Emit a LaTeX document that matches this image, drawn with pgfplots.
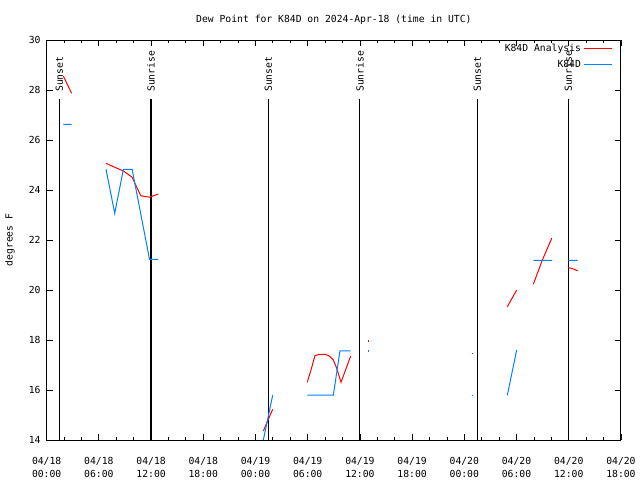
\documentclass[border=0pt]{standalone}
\usepackage{fontspec}
\setmainfont{DejaVu Sans Mono}
\usepackage{pgfplots}
\pgfplotsset{compat=1.18}
\definecolor{anared}{RGB}{255,0,0}
\definecolor{obsblue}{RGB}{0,128,255}

\begin{document}
\fontsize{7.3pt}{10pt}\selectfont
\begin{tikzpicture}
\path[use as bounding box] (0,0) rectangle (480pt,360pt);
\begin{axis}[
    at={(35pt,30pt)}, anchor=south west,
    scale only axis, width=430.7pt, height=300pt,
    xmin=0, xmax=66, ymin=14, ymax=30,
    xtick={0,6,...,66},
    xticklabels={{04/18\\00:00},{04/18\\06:00},{04/18\\12:00},{04/18\\18:00},
                 {04/19\\00:00},{04/19\\06:00},{04/19\\12:00},{04/19\\18:00},
                 {04/20\\00:00},{04/20\\06:00},{04/20\\12:00},{04/20\\18:00}},
    xticklabel style={align=center, yshift=-10pt},
    minor x tick num=2,
    ytick={14,16,...,30},
    yticklabel style={xshift=-2pt},
    /pgf/number format/assume math mode=true,
    tick align=inside,
    major tick length=4.5pt, minor tick length=2.25pt,
    tick style={black, line width=0.6pt},
    axis line style={line width=0.75pt},
    unbounded coords=jump,
    legend style={draw=none, fill=none, at={(0.986,0.998)}, anchor=north east,
                  row sep=1.5pt, inner sep=0pt},
    legend cell align=right,
    legend plot pos=right,
    legend image code/.code={\draw[#1] (0pt,0pt) -- (21pt,0pt);},
]
\addlegendimage{anared, line width=0.75pt}
\addlegendentry{K84D Analysis}
\addlegendimage{obsblue, line width=0.75pt}
\addlegendentry{K84D}

% sunrise / sunset markers
\addplot[black, line width=0.8pt, forget plot] coordinates {
  (1.45,14) (1.45,27.63) (2,nan)
  (11.99,14) (11.99,27.63) (13,nan)
  (25.47,14) (25.47,27.63) (26,nan)
  (36.0,14) (36.0,27.63) (37,nan)
  (49.49,14) (49.49,27.63) (50,nan)
  (59.95,14) (59.95,27.63)
};

% K84D Analysis
\addplot[anared, line width=0.75pt, forget plot] coordinates {
  (1.91,28.56) (2.87,27.87) (4,nan)
  (6.82,25.07) (7.82,24.91) (8.82,24.76) (9.82,24.51) (10.82,23.77) (11.82,23.71) (12.82,23.84) (14,nan)
  (24.9,14.36) (25.98,15.23) (27,nan)
  (29.95,16.31) (30.38,16.8) (30.84,17.38) (31.41,17.43) (31.99,17.43) (32.49,17.36)
  (32.95,17.2) (33.33,16.87) (33.83,16.31) (34.94,17.36) (36,nan)
  (52.94,19.33) (54.02,20.0) (55,nan)
  (55.93,20.23) (56.97,21.2) (58.05,22.07) (59,nan)
  (59.95,20.9) (60.46,20.85) (61.03,20.77)
};
\addplot[anared, only marks, mark=square*, mark size=0.3pt, forget plot] coordinates {
  (36.97,17.96) (48.92,17.47)
};

% K84D observations
\addplot[obsblue, line width=0.75pt, forget plot] coordinates {
  (1.91,26.63) (2.87,26.63) (4,nan)
  (6.82,24.83) (7.82,23.07) (8.82,24.83) (9.82,24.83) (10.82,23.03) (11.82,21.23) (12.82,21.23) (14,nan)
  (24.9,14.0) (25.98,15.8) (27,nan)
  (29.95,15.8) (30.95,15.8) (31.95,15.8) (32.95,15.8) (33.71,17.57) (34.94,17.57) (36,nan)
  (52.94,15.79) (54.02,17.6) (55,nan)
  (55.93,21.19) (56.97,21.19) (58.05,21.19) (59,nan)
  (59.95,21.19) (61.03,21.19)
};
\addplot[obsblue, only marks, mark=square*, mark size=0.3pt, forget plot] coordinates {
  (36.97,17.57) (48.92,15.79)
};

\node[rotate=90, anchor=west, inner sep=0pt] at (axis cs:1.45,27.92) {Sunset};
\node[rotate=90, anchor=west, inner sep=0pt] at (axis cs:11.99,27.92) {Sunrise};
\node[rotate=90, anchor=west, inner sep=0pt] at (axis cs:25.47,27.92) {Sunset};
\node[rotate=90, anchor=west, inner sep=0pt] at (axis cs:36.0,27.92) {Sunrise};
\node[rotate=90, anchor=west, inner sep=0pt] at (axis cs:49.49,27.92) {Sunset};
\node[rotate=90, anchor=west, inner sep=0pt] at (axis cs:59.95,27.92) {Sunrise};
\end{axis}
\node at (250.4pt,345pt) {Dew Point for K84D on 2024-Apr-18 (time in UTC)};
\node[rotate=90] at (7.5pt,180pt) {degrees F};
\end{tikzpicture}
\end{document}
